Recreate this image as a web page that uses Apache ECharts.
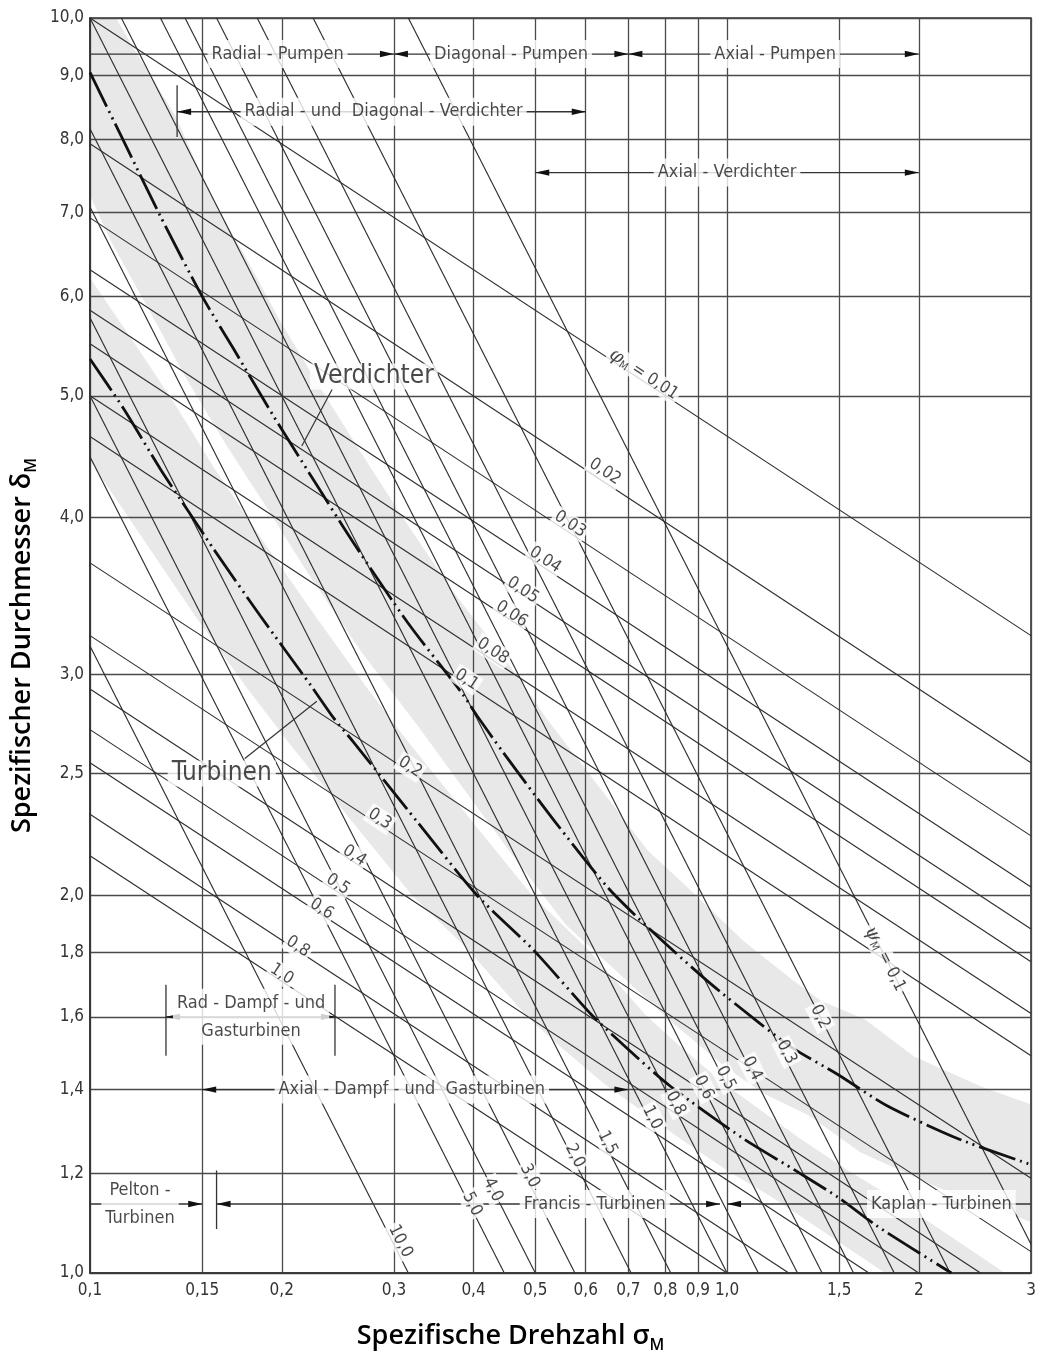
<!DOCTYPE html>
<html>
<head>
<meta charset="utf-8">
<script src="https://cdn.jsdelivr.net/npm/echarts@6/dist/echarts.min.js"></script>
<style>
html,body{margin:0;padding:0;background:#fff;}
#chart{width:1040px;height:1358px;}
</style>
</head>
<body>
<div id="chart"></div>
<script>
// ---------------- data ----------------
const xTicks = [0.1, 0.15, 0.2, 0.3, 0.4, 0.5, 0.6, 0.7, 0.8, 0.9, 1.0, 1.5, 2, 3];
const xTickLabels = ['0,1', '0,15', '0,2', '0,3', '0,4', '0,5', '0,6', '0,7', '0,8', '0,9', '1,0', '1,5', '2', '3'];
const yTicks = [1, 1.2, 1.4, 1.6, 1.8, 2, 2.5, 3, 4, 5, 6, 7, 8, 9, 10];
const yTickLabels = ['1,0', '1,2', '1,4', '1,6', '1,8', '2,0', '2,5', '3,0', '4,0', '5,0', '6,0', '7,0', '8,0', '9,0', '10,0'];

// lines of constant flow coefficient phi_M (start / end on the frame)
const phiNames = ['0,01', '0,02', '0,03', '0,04', '0,05', '0,06', '0,08', '0,1', '0,2', '0,3', '0,4', '0,5', '0,6', '0,8', '1,0'];
const phiStart = [[0.1, 10.0], [0.1, 7.94], [0.1, 6.93], [0.1, 6.30], [0.1, 5.85], [0.1, 5.50], [0.1, 5.00], [0.1, 4.64], [0.1, 3.68], [0.1, 3.22], [0.1, 2.92], [0.1, 2.71], [0.1, 2.55], [0.1, 2.32], [0.1, 2.15]];
const phiEnd = [[3, 3.22], [3, 2.55], [3, 2.23], [3, 2.03], [3, 1.88], [3, 1.77], [3, 1.61], [3, 1.49], [3, 1.19], [3, 1.04], [2.5, 1.0], [2.0, 1.0], [1.67, 1.0], [1.25, 1.0], [1.0, 1.0]];
const phiLabelPos = [[0.74, 5.2], [0.643, 4.35], [0.567, 3.95], [0.518, 3.7], [0.478, 3.5], [0.459, 3.35], [0.429, 3.13], [0.39, 2.97], [0.318, 2.53], [0.285, 2.3], [0.26, 2.15], [0.245, 2.04], [0.231, 1.95], [0.212, 1.82], [0.2, 1.73]];

// lines of constant pressure coefficient psi_M
const psiNames = ['0,1', '0,2', '0,3', '0,4', '0,5', '0,6', '0,8', '1,0', '1,5', '2,0', '3,0', '4,0', '5,0', '10,0'];
const psiStart = [[0.316, 10], [0.224, 10], [0.183, 10], [0.158, 10], [0.141, 10], [0.129, 10], [0.112, 10], [0.1, 10], [0.1, 8.16], [0.1, 7.07], [0.1, 5.77], [0.1, 5.0], [0.1, 4.47], [0.1, 3.16]];
const psiEnd = [[3, 1.054], [2.24, 1], [1.83, 1], [1.58, 1], [1.41, 1], [1.29, 1], [1.12, 1], [1.0, 1], [0.816, 1], [0.707, 1], [0.577, 1], [0.5, 1], [0.447, 1], [0.316, 1]];
const psiLabelPos = [[1.77, 1.78], [1.40, 1.60], [1.24, 1.5], [1.095, 1.455], [0.995, 1.43], [0.919, 1.405], [0.83, 1.365], [0.763, 1.33], [0.649, 1.27], [0.577, 1.24], [0.49, 1.195], [0.429, 1.165], [0.398, 1.135], [0.307, 1.06]];

// Cordier curves
const verdichterSigma = [0.1, 0.114, 0.129, 0.15, 0.168, 0.194, 0.224, 0.259, 0.315, 0.385, 0.405, 0.445, 0.533, 0.649, 0.756, 0.93, 1.127, 1.27, 1.49, 1.78, 2.3, 3.0];
const verdichterDelta = [9.05, 7.9, 6.95, 6.0, 5.45, 4.82, 4.29, 3.82, 3.30, 2.89, 2.78, 2.60, 2.30, 2.03, 1.88, 1.71, 1.58, 1.51, 1.44, 1.36, 1.28, 1.22];
const turbinenSigma = [0.1, 0.113, 0.129, 0.142, 0.156, 0.185, 0.222, 0.241, 0.259, 0.326, 0.405, 0.496, 0.61, 0.687, 0.813, 1.06, 1.27, 1.49, 1.72, 2.25];
const turbinenDelta = [5.35, 4.88, 4.37, 4.06, 3.78, 3.34, 2.94, 2.77, 2.65, 2.29, 2.0, 1.81, 1.61, 1.52, 1.41, 1.28, 1.21, 1.15, 1.09, 1.0];

// shaded bands (upper edge, lower edge)
const bandVerdichterUpper = [[0.1, 10], [0.1099, 10], [0.1185, 9.36], [0.1365, 8.34], [0.1537, 7.27], [0.1803, 6.29], [0.1994, 5.72], [0.2296, 5.08], [0.2644, 4.53], [0.3056, 4.04], [0.370, 3.50], [0.4515, 3.07], [0.5225, 2.76], [0.6254, 2.45], [0.7516, 2.17], [0.8655, 2.03], [1.06, 1.84], [1.27, 1.71], [1.405, 1.648], [1.647, 1.592], [1.966, 1.488], [2.504, 1.408], [3.0, 1.362]];
const bandVerdichterLower = [[0.1, 7.22], [0.1079, 6.64], [0.1274, 5.70], [0.141, 5.18], [0.1635, 4.57], [0.1896, 4.07], [0.2191, 3.62], [0.2673, 3.12], [0.3285, 2.72], [0.3796, 2.46], [0.4549, 2.17], [0.5588, 1.894], [0.6623, 1.75], [0.8168, 1.586], [1.0, 1.455], [1.147, 1.388], [1.345, 1.335], [1.618, 1.248], [2.152, 1.169], [3.0, 1.098]];
const bandTurbinenUpper = [[0.1, 6.21], [0.122, 5.35], [0.1374, 4.88], [0.1571, 4.37], [0.1732, 4.06], [0.1903, 3.78], [0.2256, 3.34], [0.2702, 2.94], [0.3157, 2.65], [0.398, 2.29], [0.494, 2.0], [0.605, 1.81], [0.7435, 1.607], [0.8378, 1.52], [0.993, 1.413], [1.293, 1.283], [1.549, 1.207], [1.816, 1.149], [2.098, 1.094], [2.73, 1.0]];
const bandTurbinenLower = [[0.1, 4.44], [0.1462, 3.34], [0.1751, 2.94], [0.2046, 2.65], [0.2578, 2.29], [0.3203, 2.0], [0.392, 1.81], [0.4818, 1.607], [0.543, 1.52], [0.6436, 1.413], [0.8378, 1.283], [1.0, 1.207], [1.177, 1.149], [1.36, 1.094], [1.77, 1.0]];

// range arrows: [sigma1, delta1, sigma2, delta2, arrowAtStart, arrowAtEnd]
const rangeArrows = [
  [0.1, 9.36, 0.3, 9.36, 0, 1],
  [0.3, 9.36, 0.7, 9.36, 1, 1],
  [0.7, 9.36, 2.0, 9.36, 1, 1],
  [0.137, 8.42, 0.6, 8.42, 1, 1],
  [0.5, 7.53, 2.0, 7.53, 1, 1],
  [0.1316, 1.6, 0.2424, 1.6, 1, 1],
  [0.15, 1.4, 0.7, 1.4, 1, 1],
  [0.1, 1.135, 0.15, 1.135, 0, 1],
  [0.158, 1.135, 0.975, 1.135, 1, 1],
  [1.0, 1.135, 3.0, 1.135, 1, 0]
];
const rangeBars = [[0.137, 8.84, 0.137, 8.04], [0.1316, 1.697, 0.1316, 1.49], [0.2424, 1.697, 0.2424, 1.49], [0.158, 1.207, 0.158, 1.084]];
const pointerLines = [[0.24, 5.06, 0.215, 4.56], [0.175, 2.57, 0.227, 2.855]];

const rangeTexts = ['Radial - Pumpen', 'Diagonal - Pumpen', 'Axial - Pumpen', 'Radial - und  Diagonal - Verdichter', 'Axial - Verdichter', 'Rad - Dampf - und\nGasturbinen', 'Axial - Dampf - und  Gasturbinen', 'Pelton -\nTurbinen', 'Francis - Turbinen', 'Kaplan - Turbinen'];
const rangeTextPos = [[0.197, 9.36], [0.458, 9.36], [1.19, 9.36], [0.289, 8.42], [1.0, 7.53], [0.179, 1.60], [0.32, 1.4], [0.1198, 1.135], [0.62, 1.135], [2.17, 1.135]];
const curveTexts = ['Verdichter', 'Turbinen'];
const curveTextPos = [[0.279, 5.18], [0.161, 2.50]];

// ---------------- chart ----------------
const FONT_C = "'DejaVu Sans Condensed', 'Liberation Sans Narrow', 'DejaVu Sans', sans-serif";
const FONT_T = "'Open Sans', 'Noto Sans', sans-serif";
const PHI_ROT = -33.4, PSI_ROT = -63.1;
const INK = '#1c1c1c';

function nearestLabel(v, ticks, labels) {
  let best = 0, bd = Infinity;
  ticks.forEach((t, i) => { const d = Math.abs(Math.log(t) - Math.log(v)); if (d < bd) { bd = d; best = i; } });
  return labels[best];
}

function segmentSeries(segs, color, width, z) {
  return {
    type: 'custom', z: z, silent: true, coordinateSystem: 'cartesian2d',
    encode: { x: [0, 2], y: [1, 3] }, data: segs,
    renderItem: function (params, api) {
      const p1 = api.coord([api.value(0), api.value(1)]);
      const p2 = api.coord([api.value(2), api.value(3)]);
      return { type: 'line', shape: { x1: p1[0], y1: p1[1], x2: p2[0], y2: p2[1] }, style: { stroke: color, lineWidth: width } };
    }
  };
}

function bandSeries(upper, lower) {
  const poly = upper.concat(lower.slice().reverse());
  return {
    type: 'custom', z: -1, silent: true, coordinateSystem: 'cartesian2d',
    encode: { x: 0, y: 1 }, data: poly,
    renderItem: function (params, api) {
      if (params.dataIndex !== 0) return null;
      const pts = poly.map(p => api.coord(p));
      return { type: 'polygon', shape: { points: pts }, style: { fill: '#e8e8e8' } };
    }
  };
}

const phiSegs = phiStart.map((s, i) => [s[0], s[1], phiEnd[i][0], phiEnd[i][1]]);
const psiSegs = psiStart.map((s, i) => [s[0], s[1], psiEnd[i][0], psiEnd[i][1]]);

const labelRich = {
  t: { fontFamily: FONT_C, fontSize: 17, color: INK, lineHeight: 20 },
  g: { fontFamily: 'DejaVu Serif, serif', fontStyle: 'italic', fontSize: 19, color: INK, lineHeight: 20 },
  s: { fontFamily: FONT_C, fontSize: 11, color: INK, lineHeight: 12, verticalAlign: 'bottom' }
};

const textItems = [];
phiNames.forEach((n, i) => {
  textItems.push({
    value: phiLabelPos[i],
    label: { formatter: i === 0 ? '{g|φ}{s|M}{t| = ' + n + '}' : '{t|' + n + '}', rotate: PHI_ROT, rich: labelRich }
  });
});
psiNames.forEach((n, i) => {
  textItems.push({
    value: psiLabelPos[i],
    label: { formatter: i === 0 ? '{g|ψ}{s|M}{t| = ' + n + '}' : '{t|' + n + '}', rotate: PSI_ROT, rich: labelRich }
  });
});
rangeTexts.forEach((n, i) => {
  textItems.push({
    value: rangeTextPos[i],
    label: { formatter: n, fontFamily: FONT_C, fontSize: 18, lineHeight: 28, color: INK, padding: [0, 4] }
  });
});
curveTexts.forEach((n, i) => {
  textItems.push({
    value: curveTextPos[i],
    label: { formatter: n, fontFamily: FONT_C, fontSize: 26, color: INK, padding: [0, 4] }
  });
});

const arrowSeries = {
  type: 'custom', z: 6, silent: true, coordinateSystem: 'cartesian2d',
  encode: { x: [0, 2], y: [1, 3] }, data: rangeArrows,
  renderItem: function (params, api) {
    const p1 = api.coord([api.value(0), api.value(1)]);
    const p2 = api.coord([api.value(2), api.value(3)]);
    const a1 = api.value(4), a2 = api.value(5);
    const dx = p2[0] - p1[0], dy = p2[1] - p1[1], L = Math.hypot(dx, dy) || 1;
    const ux = dx / L, uy = dy / L, nx = -uy, ny = ux;
    const AL = 14, AW = 3.2;
    const ch = [{ type: 'line', shape: { x1: p1[0], y1: p1[1], x2: p2[0], y2: p2[1] }, style: { stroke: '#333', lineWidth: 1.3 } }];
    if (a2) ch.push({ type: 'polygon', shape: { points: [[p2[0], p2[1]], [p2[0] - AL * ux + AW * nx, p2[1] - AL * uy + AW * ny], [p2[0] - AL * ux - AW * nx, p2[1] - AL * uy - AW * ny]] }, style: { fill: '#111' } });
    if (a1) ch.push({ type: 'polygon', shape: { points: [[p1[0], p1[1]], [p1[0] + AL * ux + AW * nx, p1[1] + AL * uy + AW * ny], [p1[0] + AL * ux - AW * nx, p1[1] + AL * uy - AW * ny]] }, style: { fill: '#111' } });
    return { type: 'group', children: ch };
  }
};

const curveStyle = { color: '#111', width: 2.8, type: [38, 5, 2, 5, 2, 5] };

const option = {
  animation: false,
  backgroundColor: '#fff',
  grid: { left: 90, right: 9, top: 18, bottom: 82, show: true, borderColor: '#333', borderWidth: 1.6, backgroundColor: 'transparent' },
  xAxis: {
    type: 'log', logBase: 10, min: 0.1, max: 3,
    axisLine: { show: true, lineStyle: { color: '#333', width: 1.6 } },
    axisTick: { show: false, customValues: xTicks },
    minorTick: { show: false }, minorSplitLine: { show: false },
    axisLabel: { customValues: xTicks, formatter: v => nearestLabel(v, xTicks, xTickLabels), fontFamily: FONT_C, fontSize: 17, color: '#333', margin: 9 },
    splitLine: { show: true, lineStyle: { color: '#4a4a4a', width: 1.3 } },
    name: '{t|Spezifische Drehzahl σ}{s|M}', nameLocation: 'middle', nameGap: 46,
    nameTextStyle: { padding: [0, 100, 0, 0], rich: {
      t: { fontFamily: FONT_T, fontWeight: 600, fontSize: 27, color: '#000', lineHeight: 34 },
      s: { fontFamily: FONT_T, fontWeight: 600, fontSize: 16, color: '#000', lineHeight: 16, verticalAlign: 'bottom' } } }
  },
  yAxis: {
    type: 'log', logBase: 10, min: 1, max: 10,
    axisLine: { show: true, lineStyle: { color: '#333', width: 1.6 } },
    axisTick: { show: false, customValues: yTicks },
    minorTick: { show: false }, minorSplitLine: { show: false },
    axisLabel: { customValues: yTicks, formatter: v => nearestLabel(v, yTicks, yTickLabels), fontFamily: FONT_C, fontSize: 17, color: '#333', margin: 6 },
    splitLine: { show: true, lineStyle: { color: '#4a4a4a', width: 1.3 } },
    name: '{t|Spezifischer Durchmesser δ}{s|M}', nameLocation: 'middle', nameGap: 30, nameRotate: 90,
    nameTextStyle: { rich: {
      t: { fontFamily: FONT_T, fontWeight: 600, fontSize: 27, color: '#000', lineHeight: 34 },
      s: { fontFamily: FONT_T, fontWeight: 600, fontSize: 16, color: '#000', lineHeight: 16, verticalAlign: 'bottom' } } }
  },
  series: [
    bandSeries(bandVerdichterUpper, bandVerdichterLower),
    bandSeries(bandTurbinenUpper, bandTurbinenLower),
    segmentSeries(phiSegs, '#2e2e2e', 1.15, 3),
    segmentSeries(psiSegs, '#2e2e2e', 1.15, 3),
    segmentSeries(rangeBars, '#333', 1.3, 6),
    segmentSeries(pointerLines, '#333', 1.2, 6),
    {
      type: 'line', name: 'Verdichter', z: 5, smooth: 0.25, showSymbol: false, symbol: 'none', silent: true,
      data: verdichterSigma.map((s, i) => [s, verdichterDelta[i]]), lineStyle: curveStyle
    },
    {
      type: 'line', name: 'Turbinen', z: 5, smooth: 0.25, showSymbol: false, symbol: 'none', silent: true,
      data: turbinenSigma.map((s, i) => [s, turbinenDelta[i]]), lineStyle: curveStyle
    },
    arrowSeries,
    {
      type: 'scatter', z: 10, silent: true, symbol: 'circle', symbolSize: 1, itemStyle: { color: 'rgba(0,0,0,0)' },
      data: textItems,
      label: { show: true, position: 'inside', backgroundColor: '#fff', padding: [0, 2], color: INK, fontFamily: FONT_C, align: 'center', verticalAlign: 'middle' }
    }
  ]
};

const chart = echarts.init(document.getElementById('chart'), null, { renderer: 'canvas' });
chart.setOption(option);
</script>
</body>
</html>
